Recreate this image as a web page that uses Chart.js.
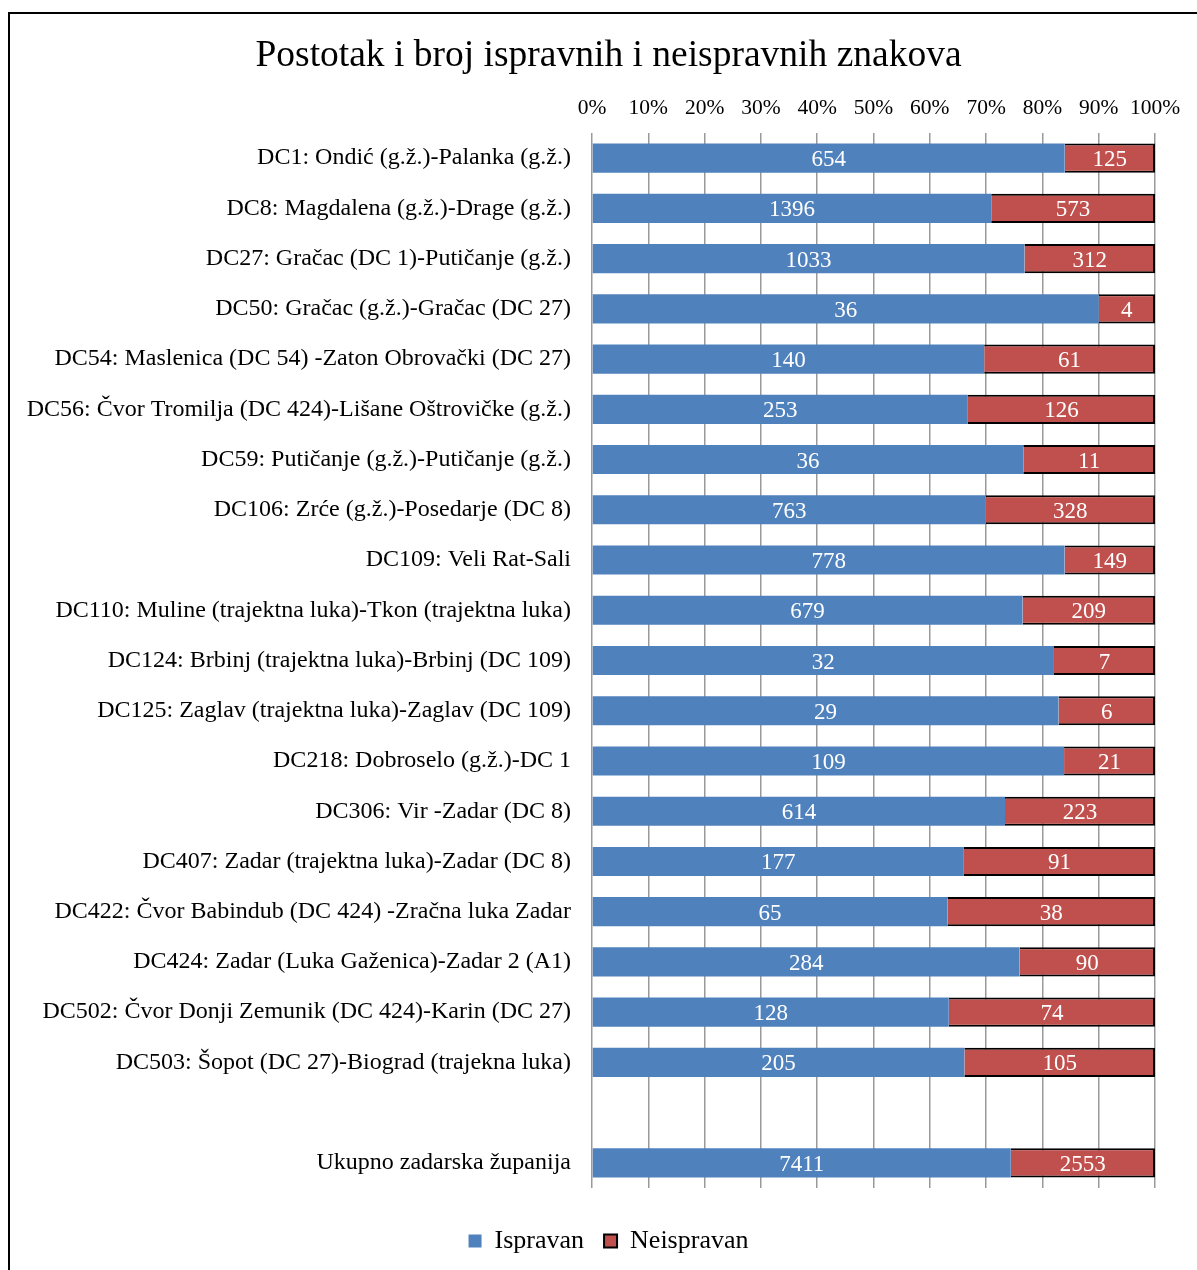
<!DOCTYPE html>
<html>
<head>
<meta charset="utf-8">
<script src="https://cdn.jsdelivr.net/npm/chart.js@4.4.1/dist/chart.umd.min.js"></script>
<style>
  html, body { margin: 0; padding: 0; background: #fff; overflow: hidden; }
  #frame { position: absolute; left: 8px; top: 12px; width: 1300px; height: 1400px; border: 2px solid #000; }
  #chart { position: absolute; left: 0; top: 0; }
</style>
</head>
<body>
<div id="frame"></div>
<canvas id="chart" width="1197" height="1270"></canvas>
<script>
// Categories (empty row separates the roads from the county total)
const roads = [
    'DC1: Ondić (g.ž.)-Palanka (g.ž.)',
    'DC8: Magdalena (g.ž.)-Drage (g.ž.)',
    'DC27: Gračac (DC 1)-Putičanje (g.ž.)',
    'DC50: Gračac (g.ž.)-Gračac (DC 27)',
    'DC54: Maslenica (DC 54) -Zaton Obrovački (DC 27)',
    'DC56: Čvor Tromilja (DC 424)-Lišane Oštrovičke (g.ž.)',
    'DC59: Putičanje (g.ž.)-Putičanje (g.ž.)',
    'DC106: Zrće (g.ž.)-Posedarje (DC 8)',
    'DC109: Veli Rat-Sali',
    'DC110: Muline (trajektna luka)-Tkon (trajektna luka)',
    'DC124: Brbinj (trajektna luka)-Brbinj (DC 109)',
    'DC125: Zaglav (trajektna luka)-Zaglav (DC 109)',
    'DC218: Dobroselo (g.ž.)-DC 1',
    'DC306: Vir -Zadar (DC 8)',
    'DC407: Zadar (trajektna luka)-Zadar (DC 8)',
    'DC422: Čvor Babindub (DC 424) -Zračna luka Zadar',
    'DC424: Zadar (Luka Gaženica)-Zadar 2 (A1)',
    'DC502: Čvor Donji Zemunik (DC 424)-Karin (DC 27)',
    'DC503: Šopot (DC 27)-Biograd (trajekna luka)',
    '',
    'Ukupno zadarska županija'
];
// Sign counts per road
const ispravan   = [654, 1396, 1033, 36, 140, 253, 36, 763, 778, 679, 32, 29, 109, 614, 177, 65, 284, 128, 205, null, 7411];
const neispravan = [125, 573, 312, 4, 61, 126, 11, 328, 149, 209, 7, 6, 21, 223, 91, 38, 90, 74, 105, null, 2553];
const tickSteps = [0, 10, 20, 30, 40, 50, 60, 70, 80, 90, 100];

const FONT = "'Liberation Serif', 'Times New Roman', serif";

// percentages for the 100% stacked bars
function pct(a, b) {
    return a.map((v, i) => v == null ? null : v * 100 / (v + b[i]));
}

// draws the counts centred in each bar segment
const countLabels = {
    id: 'countLabels',
    afterDatasetsDraw(chart) {
        const ctx = chart.ctx;
        ctx.save();
        ctx.font = '23px ' + FONT;
        ctx.fillStyle = '#ffffff';
        ctx.textAlign = 'center';
        ctx.textBaseline = 'middle';
        chart.data.datasets.forEach((ds, di) => {
            const meta = chart.getDatasetMeta(di);
            meta.data.forEach((bar, i) => {
                const n = ds.counts[i];
                if (n == null) return;
                const p = bar.getProps(['x', 'y', 'base'], true);
                ctx.fillText(String(n), (p.x + p.base) / 2, p.y + 2);
            });
        });
        ctx.restore();
    }
};

// empty axis used only to reserve space
const spacer = (pos, size) => ({
    type: 'linear',
    position: pos,
    afterFit: s => { if (pos === 'right') s.width = size; else s.height = size; },
    ticks: { display: false },
    grid: { display: false },
    border: { display: false }
});

const ctx = document.getElementById('chart').getContext('2d');
new Chart(ctx, {
    type: 'bar',
    data: {
        labels: roads,
        datasets: [{
            label: 'Ispravan',
            data: pct(ispravan, neispravan),
            counts: ispravan,
            xAxisID: 'x',
            yAxisID: 'y',
            backgroundColor: '#4F81BD',
            borderWidth: 0
        }, {
            label: 'Neispravan',
            data: pct(neispravan, ispravan),
            counts: neispravan,
            xAxisID: 'x',
            yAxisID: 'y',
            backgroundColor: '#C0504D',
            borderColor: '#000000',
            borderWidth: 2
        }]
    },
    options: {
        indexAxis: 'y',
        responsive: false,
        animation: false,
        layout: { padding: { left: 20, right: 0, top: 0, bottom: 6 } },
        datasets: { bar: { barPercentage: 0.58, categoryPercentage: 1 } },
        plugins: {
            title: {
                display: true,
                text: 'Postotak i broj ispravnih i neispravnih znakova',
                color: '#000',
                font: { family: FONT, size: 37.5, weight: 'normal', lineHeight: 1.2 },
                padding: { top: 34, bottom: 16 }
            },
            legend: {
                position: 'bottom',
                labels: {
                    color: '#000',
                    font: { family: FONT, size: 26 },
                    boxWidth: 13,
                    boxHeight: 13,
                    padding: 20
                }
            },
            tooltip: { enabled: false }
        },
        scales: {
            x: {
                position: 'top',
                stacked: true,
                min: 0,
                max: 100,
                afterBuildTicks: s => { s.ticks = tickSteps.map(v => ({ value: v })); },
                afterFit: s => { s.height = 38; },
                ticks: {
                    color: '#000',
                    font: { family: FONT, size: 21.5 },
                    padding: 12,
                    callback: v => v + '%'
                },
                grid: { color: '#999', lineWidth: 1.5, drawTicks: false },
                border: { display: false }
            },
            y: {
                type: 'category',
                stacked: true,
                afterFit: s => { s.width = 572; },
                ticks: {
                    color: '#000',
                    font: { family: FONT, size: 24 },
                    padding: 13,
                    autoSkip: false
                },
                grid: { display: false },
                border: { display: false }
            },
            gapBottom: spacer('bottom', 20),
            gapRight: spacer('right', 42)
        }
    },
    plugins: [countLabels]
});
</script>
</body>
</html>
